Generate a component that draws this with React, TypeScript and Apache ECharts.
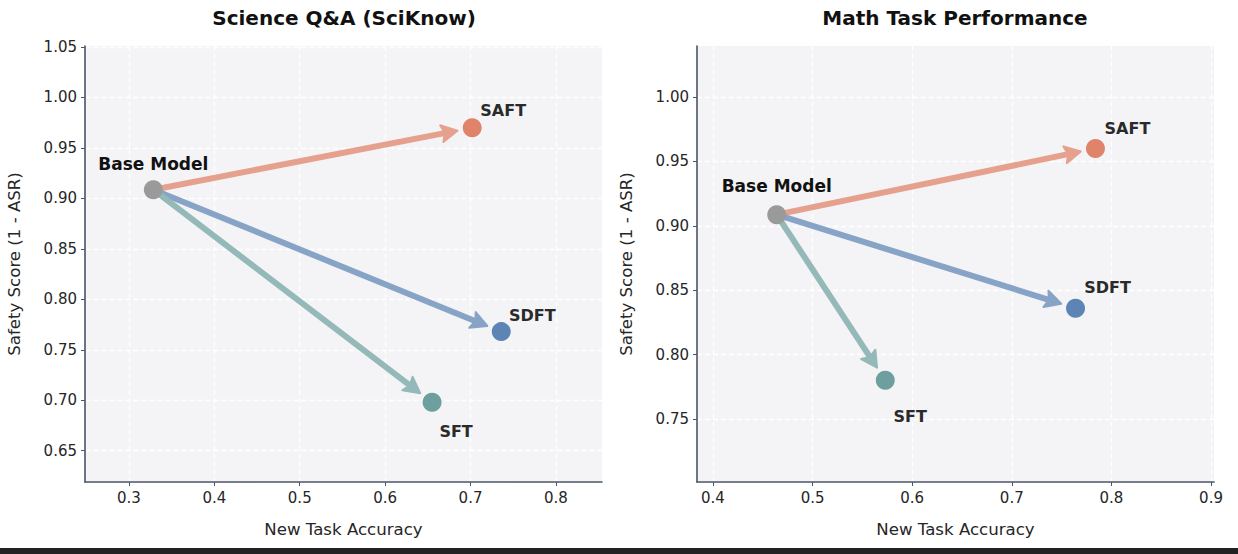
import React, { useEffect, useRef } from 'react';
import * as echarts from 'echarts';

// ---------- data ----------
const methods = ['Base Model', 'SAFT', 'SDFT', 'SFT'];
const sciAccuracy = [0.3285, 0.702, 0.736, 0.655];
const sciSafety = [0.9086, 0.970, 0.768, 0.698];
const mathAccuracy = [0.464, 0.784, 0.764, 0.573];
const mathSafety = [0.9086, 0.960, 0.836, 0.780];

const sciXTicks = [0.3, 0.4, 0.5, 0.6, 0.7, 0.8];
const sciYTicks = [0.65, 0.7, 0.75, 0.8, 0.85, 0.9, 0.95, 1.0, 1.05];
const mathXTicks = [0.4, 0.5, 0.6, 0.7, 0.8, 0.9];
const mathYTicks = [0.75, 0.8, 0.85, 0.9, 0.95, 1.0];

const sciXRange = [0.2485, 0.854];
const sciYRange = [0.619, 1.051];
const mathXRange = [0.384, 0.903];
const mathYRange = [0.701, 1.0396];

const titles = ['Science Q&A (SciKnow)', 'Math Task Performance'];
const xAxisName = 'New Task Accuracy';
const yAxisName = 'Safety Score (1 - ASR)';

// ---------- styles ----------
const FONT = 'DejaVu Sans';
const pointColors = ['#9a9a9a', '#df846a', '#5c85b5', '#6d9f9f'];
const arrowColors = ['#9a9a9a', '#e6a18e', '#87a4c7', '#94b9b8'];
const AXIS_COLOR = '#4b5567';

// label offsets (pixels) per method, per panel
const sciLabelOffsets = [[0, -26], [31, -17], [31, -16], [24, 29]];
const mathLabelOffsets = [[0, -29], [32, -20], [32, -21], [25, 36]];
const labelSizes = [17, 16, 16, 16];

const grids = [
  { left: 85, top: 46, width: 517, height: 436 },
  { left: 697, top: 46, width: 517, height: 436 },
];
const titleCenters = [344, 955];

function makeXAxis(gridIndex: number, range: number[], ticks: number[]) {
  return {
    type: 'value',
    gridIndex,
    min: range[0],
    max: range[1],
    name: xAxisName,
    nameLocation: 'middle',
    nameGap: 39,
    nameTextStyle: { fontFamily: FONT, fontSize: 16.6, color: '#262626' },
    axisLine: { show: true, onZero: false, lineStyle: { color: AXIS_COLOR, width: 1.6 } },
    axisTick: {
      show: true,
      inside: false,
      length: 4,
      customValues: ticks,
      lineStyle: { color: AXIS_COLOR, width: 1 },
    },
    axisLabel: {
      customValues: ticks,
      color: '#262626',
      fontFamily: FONT,
      fontSize: 15,
      margin: 8,
      formatter: (v: number) => v.toFixed(1),
    },
    splitLine: { show: true, lineStyle: { color: '#ffffff', width: 1.3, type: [5, 3] } },
  };
}

function makeYAxis(gridIndex: number, range: number[], ticks: number[]) {
  return {
    type: 'value',
    gridIndex,
    min: range[0],
    max: range[1],
    name: yAxisName,
    nameLocation: 'middle',
    nameGap: 62,
    nameTextStyle: { fontFamily: FONT, fontSize: 16.6, color: '#262626' },
    axisLine: { show: true, onZero: false, lineStyle: { color: AXIS_COLOR, width: 1.6 } },
    axisTick: {
      show: true,
      inside: false,
      length: 4,
      customValues: ticks,
      lineStyle: { color: AXIS_COLOR, width: 1 },
    },
    axisLabel: {
      customValues: ticks,
      color: '#262626',
      fontFamily: FONT,
      fontSize: 15,
      margin: 8,
      formatter: (v: number) => v.toFixed(2),
    },
    splitLine: { show: true, lineStyle: { color: '#ffffff', width: 1.3, type: [5, 3] } },
  };
}

function arrowSeries(idx: number, xs: number[], ys: number[]) {
  const data = [] as number[][];
  for (let i = 1; i < methods.length; i++) {
    data.push([xs[0], ys[0], xs[i], ys[i], i]);
  }
  return {
    type: 'custom',
    xAxisIndex: idx,
    yAxisIndex: idx,
    z: 2,
    silent: true,
    clip: false,
    encode: { x: [0, 2], y: [1, 3] },
    data,
    renderItem: (_params: any, api: any) => {
      const s = api.coord([api.value(0), api.value(1)]);
      const e = api.coord([api.value(2), api.value(3)]);
      const color = arrowColors[api.value(4)];
      const dx = e[0] - s[0];
      const dy = e[1] - s[1];
      const L = Math.hypot(dx, dy);
      const ux = dx / L;
      const uy = dy / L;
      const px = -uy;
      const py = ux;
      const tip = [e[0] - ux * 15, e[1] - uy * 15];
      const headLen = 16;
      const headW = 8.5;
      const base = [tip[0] - ux * headLen, tip[1] - uy * headLen];
      const shaftEnd = [tip[0] - ux * headLen * 0.5, tip[1] - uy * headLen * 0.5];
      return {
        type: 'group',
        children: [
          {
            type: 'line',
            shape: { x1: s[0], y1: s[1], x2: shaftEnd[0], y2: shaftEnd[1] },
            style: { stroke: color, lineWidth: 6, lineCap: 'butt' },
          },
          {
            type: 'polygon',
            shape: {
              points: [
                tip,
                [base[0] + px * headW, base[1] + py * headW],
                [base[0] + ux * 3, base[1] + uy * 3],
                [base[0] - px * headW, base[1] - py * headW],
              ],
            },
            style: { fill: color, stroke: color, lineWidth: 2, lineJoin: 'round' },
          },
        ],
      };
    },
  };
}

function pointSeries(idx: number, xs: number[], ys: number[], offsets: number[][]) {
  return {
    type: 'scatter',
    xAxisIndex: idx,
    yAxisIndex: idx,
    z: 5,
    symbol: 'circle',
    symbolSize: 19,
    silent: true,
    data: methods.map((m, i) => ({
      name: m,
      value: [xs[i], ys[i]],
      itemStyle: { color: pointColors[i], opacity: 1 },
      label: {
        show: true,
        position: 'inside',
        offset: offsets[i],
        formatter: '{b}',
        fontFamily: FONT,
        fontWeight: 'bold',
        fontSize: labelSizes[i],
        color: i === 0 ? '#111111' : '#2a2a2a',
      },
    })),
  };
}

export default function App() {
  const ref = useRef<HTMLDivElement>(null);

  useEffect(() => {
    if (!ref.current) return;
    const chart = echarts.init(ref.current, undefined, { renderer: 'svg' });
    const option = {
      animation: false,
      backgroundColor: '#ffffff',
      grid: grids.map((g) => ({
        ...g,
        show: true,
        backgroundColor: '#f4f4f7',
        borderWidth: 0,
        containLabel: false,
      })),
      xAxis: [makeXAxis(0, sciXRange, sciXTicks), makeXAxis(1, mathXRange, mathXTicks)],
      yAxis: [makeYAxis(0, sciYRange, sciYTicks), makeYAxis(1, mathYRange, mathYTicks)],
      graphic: [
        ...titles.map((t, i) => ({
          type: 'text',
          x: titleCenters[i],
          y: 18,
          style: {
            text: t,
            fontFamily: FONT,
            fontSize: 20,
            fontWeight: 'bold',
            fill: '#111111',
            textAlign: 'center',
            textVerticalAlign: 'middle',
          },
        })),
        {
          type: 'rect',
          shape: { x: 0, y: 548, width: 1238, height: 6 },
          style: { fill: '#222222' },
        },
      ],
      series: [
        arrowSeries(0, sciAccuracy, sciSafety),
        pointSeries(0, sciAccuracy, sciSafety, sciLabelOffsets),
        arrowSeries(1, mathAccuracy, mathSafety),
        pointSeries(1, mathAccuracy, mathSafety, mathLabelOffsets),
      ],
    };
    chart.setOption(option as any);
    return () => chart.dispose();
  }, []);

  return (
    <div
      ref={ref}
      style={{ position: 'fixed', left: 0, top: 0, width: 1238, height: 554, background: '#fff' }}
    />
  );
}
